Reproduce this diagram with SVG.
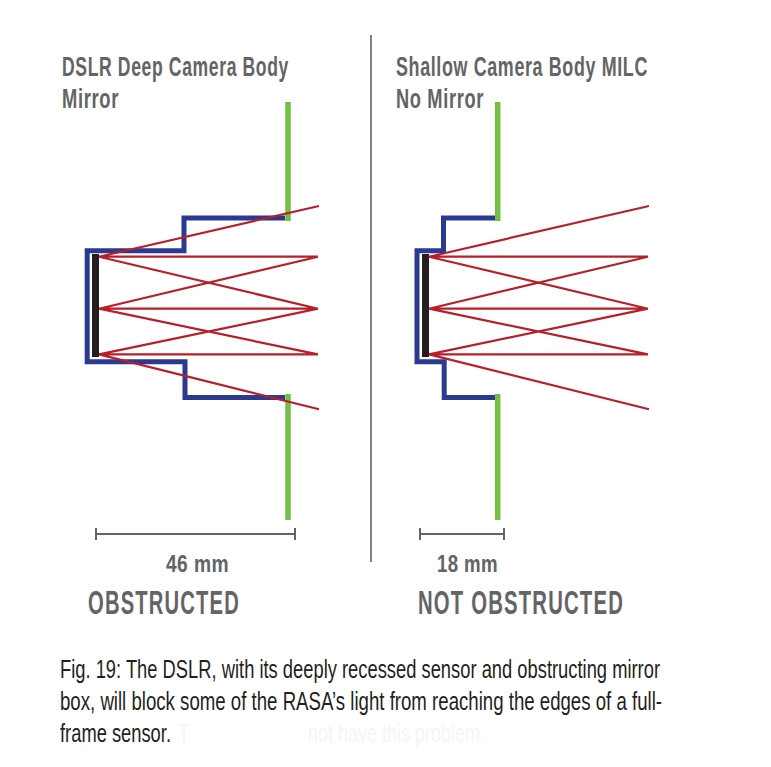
<svg xmlns="http://www.w3.org/2000/svg" width="771" height="767" viewBox="0 0 771 767">
<style>
.body{fill:none;stroke:#2b3990;stroke-width:5}
.green{fill:none;stroke:#72bf44;stroke-width:5.5}
.ray{fill:none;stroke:#b71f2a;stroke-width:2.2;stroke-linejoin:bevel}
.dim{fill:none;stroke:#636466;stroke-width:2}
.rule{fill:none;stroke:#636466;stroke-width:1.6}
text{font-family:"Liberation Sans Narrow","Liberation Sans",sans-serif;font-weight:700;fill:#636466}
.head{font-size:22px;letter-spacing:.8px}
.mm{font-size:24px;letter-spacing:.5px}
.big{font-size:34px;letter-spacing:2px}
.cap{font-size:20px;font-weight:400;fill:#231f20}
.fade{font-size:20px;font-weight:400;fill:#f5f5f5}
</style>
<rect width="771" height="767" fill="#fff"/>
<g id="labels">
<text class="head" transform="translate(62 76) scale(1 1.227)" textLength="227" lengthAdjust="spacingAndGlyphs">DSLR Deep Camera Body</text>
<text class="head" transform="translate(62 108) scale(1 1.227)" textLength="57" lengthAdjust="spacingAndGlyphs">Mirror</text>
<text class="head" transform="translate(396 76) scale(1 1.227)" textLength="252" lengthAdjust="spacingAndGlyphs">Shallow Camera Body MILC</text>
<text class="head" transform="translate(396 108) scale(1 1.227)" textLength="88" lengthAdjust="spacingAndGlyphs">No Mirror</text>
<text class="mm" x="166" y="571.500" textLength="63" lengthAdjust="spacingAndGlyphs">46 mm</text>
<text class="mm" x="437" y="571.500" textLength="61" lengthAdjust="spacingAndGlyphs">18 mm</text>
<text class="big" x="88" y="614" textLength="152" lengthAdjust="spacingAndGlyphs">OBSTRUCTED</text>
<text class="big" x="418" y="614" textLength="206" lengthAdjust="spacingAndGlyphs">NOT OBSTRUCTED</text>
</g>
<g id="divider"><path class="rule" d="M371 35V562"/></g>
<g id="dslr">
<path class="green" d="M288 102V221M288 394V520"/>
<path class="body" d="M285 218H184V250.800H87.200V361.700H185V397.500H285"/>
<rect x="92" y="254" width="7" height="103" fill="#231f20"/>
</g>
<g id="milc">
<path class="green" d="M497.700 102V221M497.700 394V520"/>
<path class="body" d="M495 218H443.500V250.800H417V361.700H444.200V397.500H495"/>
<rect x="422" y="254" width="7" height="103" fill="#231f20"/>
</g>
<g id="connectors">
<path class="ray" d="M99 256.700L319 206M99 256.700H318M99 256.700L318 308.700M99 308.700L318 256.700M99 308.700H318M99 308.700L318 354.400M99 354.400L318 308.700M99 354.400H318M99 354.400L319 409.300"/>
<path class="ray" d="M429 256.700L649 206M429 256.700H648M429 256.700L648 308.700M429 308.700L648 256.700M429 308.700H648M429 308.700L648 354.400M429 354.400L648 308.700M429 354.400H648M429 354.400L649 409.300"/>
<path class="dim" d="M96 534H295M96 528V540M295 528V540M420 534H504M420 528V540M504 528V540"/>
</g>
<g id="caption">
<text class="cap" transform="translate(60 678) scale(1 1.3)" textLength="600" lengthAdjust="spacingAndGlyphs">Fig. 19: The DSLR, with its deeply recessed sensor and obstructing mirror</text>
<text class="cap" transform="translate(60 710) scale(1 1.3)" textLength="602" lengthAdjust="spacingAndGlyphs">box, will block some of the RASA’s light from reaching the edges of a full-</text>
<text class="cap" transform="translate(60 742) scale(1 1.3)" textLength="111" lengthAdjust="spacingAndGlyphs">frame sensor.</text>
<text class="fade" transform="translate(178 742) scale(1 1.3)" textLength="12" lengthAdjust="spacingAndGlyphs">T</text>
<text class="fade" transform="translate(308 742) scale(1 1.3)" textLength="177" lengthAdjust="spacingAndGlyphs">not have this problem.</text>
</g>
</svg>
